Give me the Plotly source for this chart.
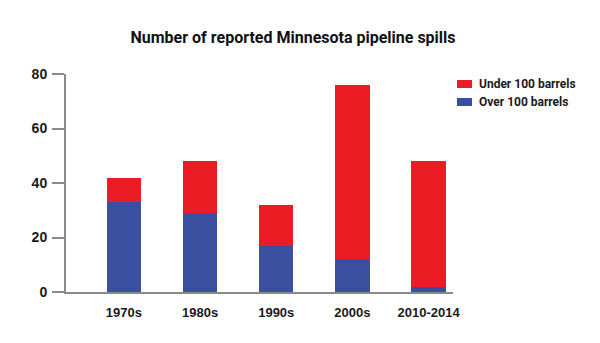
import plotly.graph_objects as go

categories = ["1970s", "1980s", "1990s", "2000s", "2010-2014"]
over_100 = [33, 29, 17, 12, 2]
under_100 = [9, 19, 15, 64, 46]
series_names = ["Under 100 barrels", "Over 100 barrels"]
colors = {"Under 100 barrels": "#EC1C24", "Over 100 barrels": "#3B4FA0"}
y_ticks = [0, 20, 40, 60, 80]

W, H = 600, 343
L, R, T, B = 66, 147, 74, 51

fig = go.Figure()
fig.add_trace(go.Bar(x=categories, y=over_100, name=series_names[1],
                     marker=dict(color=colors[series_names[1]], line=dict(width=0)),
                     showlegend=False))
fig.add_trace(go.Bar(x=categories, y=under_100, name=series_names[0],
                     marker=dict(color=colors[series_names[0]], line=dict(width=0)),
                     showlegend=False))

narrow = "Roboto, sans-serif"
bold_font = "Liberation Sans, Arial, sans-serif"

shapes = []
annotations = []
pw = W - L - R
ph = H - T - B
for i, name in enumerate(series_names):
    cy = 84 + i * 18
    x0, x1 = 457, 472
    shapes.append(dict(type="rect", xref="paper", yref="paper",
                       x0=(x0 - L) / pw, x1=(x1 - L) / pw,
                       y0=(H - B - (cy + 4)) / ph, y1=(H - B - (cy - 4)) / ph,
                       fillcolor=colors[name], line=dict(width=0)))
    annotations.append(dict(text=name, xref="paper", yref="paper",
                            x=(477 - L) / pw, y=(H - B - cy) / ph,
                            xanchor="left", yanchor="middle", showarrow=False,
                            font=dict(family=narrow, size=12, color="#1a1a1a", weight="bold")))

fig.update_layout(
    width=W, height=H,
    margin=dict(l=L, r=R, t=T, b=B, pad=0),
    barmode="stack",
    bargap=0.55,
    plot_bgcolor="white", paper_bgcolor="white",
    title=dict(text="Number of reported Minnesota pipeline spills",
               xref="container", yref="container",
               x=293 / W, y=1 - 37 / H, xanchor="center", yanchor="middle",
               font=dict(family=narrow, size=16, color="#111111", weight="bold")),
    xaxis=dict(range=[-0.76, 4.32], showline=True, linecolor="#8a8a8a", linewidth=2,
               ticks="", showgrid=False, zeroline=False, ticklabelstandoff=7,
               tickfont=dict(family=bold_font, size=13, color="#1a1a1a", weight="bold")),
    yaxis=dict(range=[0, 80], tickvals=y_ticks, showline=True, linecolor="#8a8a8a",
               linewidth=2, ticks="outside", ticklen=12, tickcolor="#8a8a8a", tickwidth=2,
               showgrid=False, zeroline=False, ticklabelstandoff=2,
               tickfont=dict(family=bold_font, size=14, color="#1a1a1a", weight="bold")),
    shapes=shapes,
    annotations=annotations,
)

fig.write_html("out.html")
